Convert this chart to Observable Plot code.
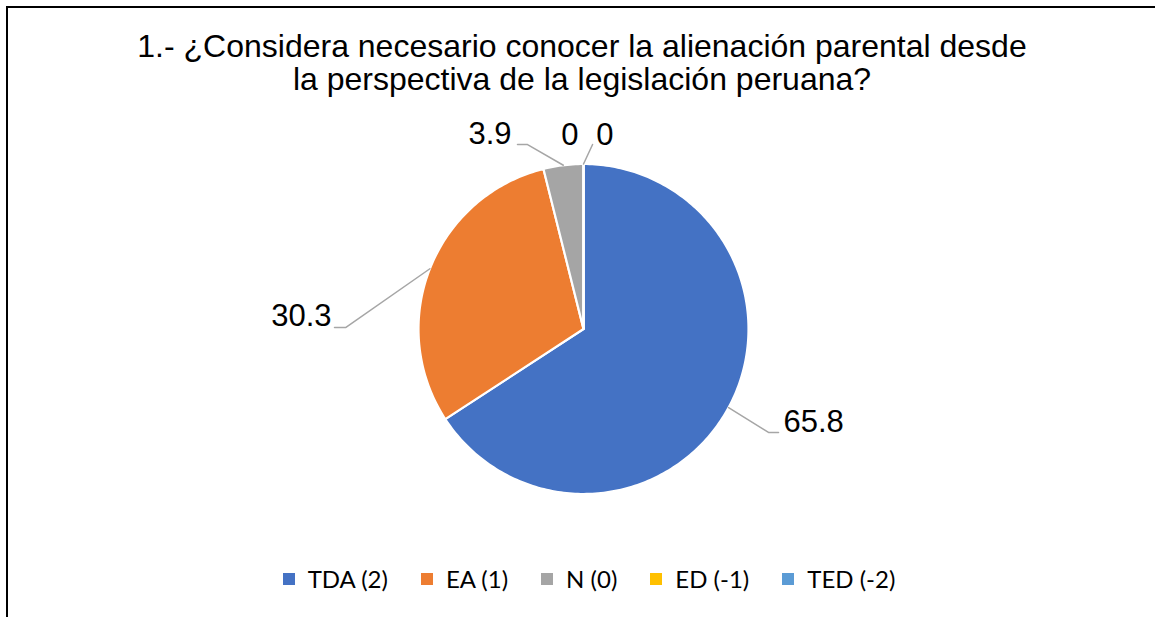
<!DOCTYPE html>
<html>
<head>
<meta charset="utf-8">
<script src="https://cdn.jsdelivr.net/npm/d3@7"></script>
<script src="https://cdn.jsdelivr.net/npm/@observablehq/plot@0.6"></script>
<style>
  html, body { margin: 0; padding: 0; background: #fff; }
  #wrap { position: relative; width: 1155px; height: 617px; overflow: hidden; background: #fff; }
  #frame { position: absolute; left: 6px; top: 6px; right: -10px; bottom: -10px;
           border-top: 2px solid #000; border-left: 2px solid #000; }
  #title { position: absolute; left: 0; width: 1164px; top: 30px; text-align: center;
           font-family: "Liberation Sans", Arial, sans-serif; font-size: 32px; line-height: 33px; color: #000; }
  #chart { position: absolute; left: 0; top: 0; }
  #legend { position: absolute; left: 0; width: 1178px; top: 563px; display: flex; justify-content: center;
            gap: 33px; font-family: Lato, "Open Sans", sans-serif; font-size: 24px; color: #000; }
  .item { display: flex; align-items: center; gap: 13px; line-height: 32px; }
  .sw { width: 12px; height: 12px; display: inline-block; }
</style>
</head>
<body>
<div id="wrap">
  <div id="frame"></div>
  <div id="title">1.- ¿Considera necesario conocer la alienación parental desde<br>la perspectiva de la legislación peruana?</div>
  <div id="chart"></div>
  <div id="legend"></div>
</div>
<script>
// ---- data ----
const categories = ["TDA (2)", "EA (1)", "N (0)", "ED (-1)", "TED (-2)"];
const values = [65.8, 30.3, 3.9, 0, 0];
const valueLabels = ["65.8", "30.3", "3.9", "0", "0"];
const colors = ["#4472C4", "#ED7D31", "#A5A5A5", "#FFC000", "#5B9BD5"];

// ---- layout (pixels) ----
const W = 1155, H = 617, CX = 583, CY = 328.5, R = 165;
// label placement in radius units relative to the pie centre (y up)
const labelLayout = [
  {tx: 1.212, ty: -0.567, anchor: "start", elbow: [[1.121, -0.627], [1.182, -0.627]]},
  {tx: -1.527, ty: 0.076, anchor: "end", elbow: [[-1.442, 0.009], [-1.509, 0.009]]},
  {tx: -0.436, ty: 1.179, anchor: "end", elbow: [[-0.339, 1.118], [-0.4, 1.118]]},
  {tx: -0.082, ty: 1.173, anchor: "middle", elbow: null},
  {tx: 0.13, ty: 1.173, anchor: "middle", elbow: [[0.055, 1.118]]}
];

const rows = categories.map((c, i) => ({cat: c, value: values[i], label: valueLabels[i], color: colors[i], i}));
const arcs = d3.pie().sort(null).value(d => d.value).startAngle(0).endAngle(2 * Math.PI)(rows);

// slice polygons (x = sin a, y = cos a : clockwise from 12 o'clock)
const slicePts = [];
for (const a of arcs) {
  const n = Math.max(2, Math.ceil((a.endAngle - a.startAngle) / (2 * Math.PI) * 360));
  slicePts.push({cat: a.data.cat, x: 0, y: 0});
  for (let k = 0; k <= n; k++) {
    const t = a.startAngle + (a.endAngle - a.startAngle) * k / n;
    slicePts.push({cat: a.data.cat, x: Math.sin(t), y: Math.cos(t)});
  }
  slicePts.push({cat: a.data.cat, x: 0, y: 0});
}

// leader lines: from slice mid-angle on the rim to the label elbow
const leaderPts = [];
const textPts = [];
arcs.forEach((a, i) => {
  const L = labelLayout[i];
  const mid = (a.startAngle + a.endAngle) / 2;
  if (L.elbow) {
    leaderPts.push({id: i, x: Math.sin(mid), y: Math.cos(mid)});
    for (const [ex, ey] of L.elbow) leaderPts.push({id: i, x: ex, y: ey});
  }
  textPts.push({x: L.tx, y: L.ty, text: a.data.label, anchor: L.anchor});
});

const chart = Plot.plot({
  width: W, height: H,
  margin: 0,
  style: {background: "transparent", overflow: "visible"},
  x: {domain: [-CX / R, (W - CX) / R], axis: null},
  y: {domain: [-(H - CY) / R, CY / R], axis: null},
  color: {domain: categories, range: colors},
  marks: [
    Plot.line(slicePts, {x: "x", y: "y", z: "cat", fill: "cat", stroke: "white", strokeWidth: 2.2, strokeLinejoin: "round"}),
    Plot.line(leaderPts, {x: "x", y: "y", z: "id", stroke: "#A6A6A6", strokeWidth: 1.5}),
    ...["start", "end", "middle"].map(anc =>
      Plot.text(textPts.filter(d => d.anchor === anc), {
        x: "x", y: "y", text: "text", textAnchor: anc, lineAnchor: "middle",
        fontSize: 31, fill: "#000", fontFamily: "'Liberation Sans', Arial, sans-serif"
      }))
  ]
});
document.getElementById("chart").appendChild(chart);

// legend
const lg = document.getElementById("legend");
categories.forEach((c, i) => {
  const it = document.createElement("div");
  it.className = "item";
  const sw = document.createElement("span");
  sw.className = "sw";
  sw.style.background = colors[i];
  const tx = document.createElement("span");
  tx.textContent = c;
  it.appendChild(sw); it.appendChild(tx);
  lg.appendChild(it);
});
</script>
</body>
</html>
